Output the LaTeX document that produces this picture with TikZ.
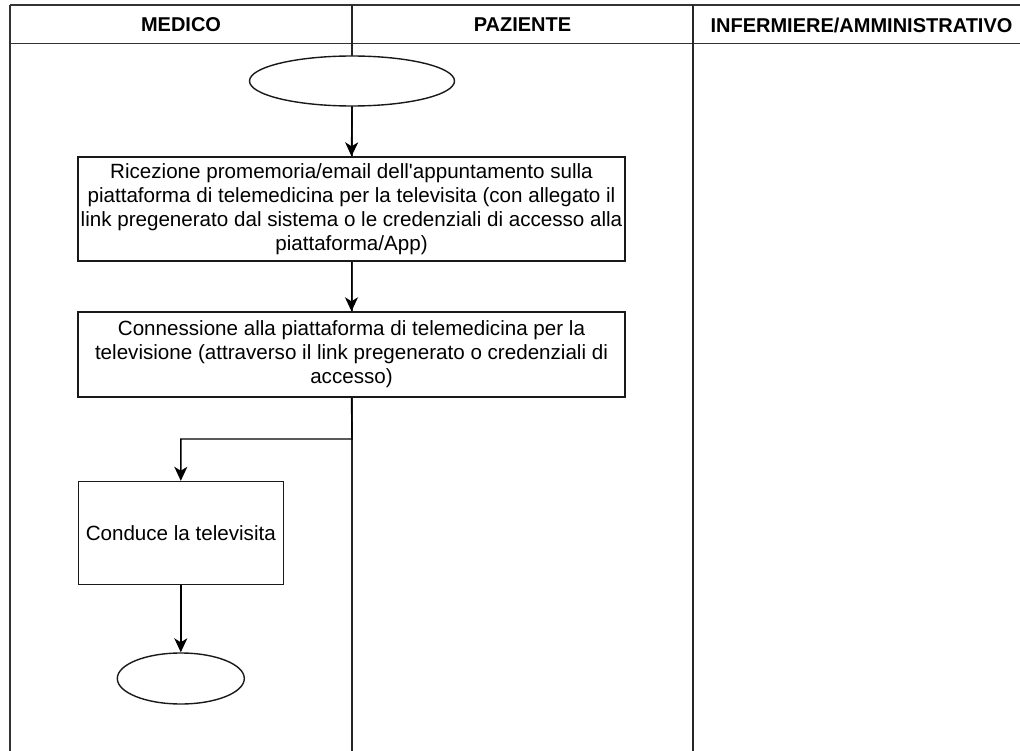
\documentclass[tikz,border=0pt]{standalone}
\usepackage{fontspec}
\setmainfont{Liberation Sans}
\newfontfamily\straightfont{Liberation Sans}[Ligatures=TeXOff]
\usetikzlibrary{arrows.meta,shapes.geometric}
\tikzset{
  frameline/.style={line width=1.8pt, draw=black!80},
  laneline/.style={line width=1.4pt, draw=black!85},
  hdr/.style={font=\bfseries\fontsize{20}{24}\selectfont, inner sep=0pt},
  procbox/.style={draw=black!90, line width=1.4pt, fill=white, rectangle, align=center, inner sep=0pt,
    font=\fontsize{20.6}{24}\selectfont},
  termell/.style={draw=black!90, line width=1.4pt, fill=white, ellipse, inner sep=0pt},
  arr/.style={line width=1.4pt, draw=black, -{Stealth[length=14pt,width=13pt,inset=4pt]}},
}
\begin{document}
\begin{tikzpicture}[x=1pt,y=-1pt]
\useasboundingbox (0,0) rectangle (1020,751);
% frame and lanes
\draw[frameline] (10,5) -- (1030,5);
\draw[frameline] (10,43.5) -- (1030,43.5);
\draw[frameline] (10,5) -- (10,760);
\draw[laneline] (352,5) -- (352,760);
\draw[laneline] (693,5) -- (693,760);
% headers
\node[hdr] (hMed) at (181,25) {MEDICO};
\node[hdr] (hPaz) at (522.5,25) {PAZIENTE};
\node[hdr] (hInf) at (861.5,25) {INFERMIERE/AMMINISTRATIVO};
% nodes
\node[termell, minimum width=205pt, minimum height=50pt] (start) at (352,81) {};
\node[procbox, minimum width=547pt, minimum height=104pt] (ricez) at (351.5,209)
  {Ricezione promemoria/email dell{\straightfont'}appuntamento sulla\\
   piattaforma di telemedicina per la televisita (con allegato il\\
   link pregenerato dal sistema o le credenziali di accesso alla\\
   piattaforma/App)};
\node[procbox, minimum width=547pt, minimum height=85pt] (conn) at (351.5,354.5)
  {Connessione alla piattaforma di telemedicina per la\\
   televisione (attraverso il link pregenerato o credenziali di\\
   accesso)};
\node[procbox, minimum width=205pt, minimum height=103pt] (cond) at (180.8,533)
  {Conduce la televisita};
\node[termell, minimum width=127pt, minimum height=51pt] (stop) at (180.8,678.5) {};
\coordinate (bend) at (352,439);
% connectors
\draw[arr] (start.south) -- (ricez.north);
\draw[arr] (ricez.south) -- (conn.north);
\draw[arr] (conn.south) -- (bend) -| (cond.north);
\draw[arr] (cond.south) -- (stop.north);
\end{tikzpicture}
\end{document}
